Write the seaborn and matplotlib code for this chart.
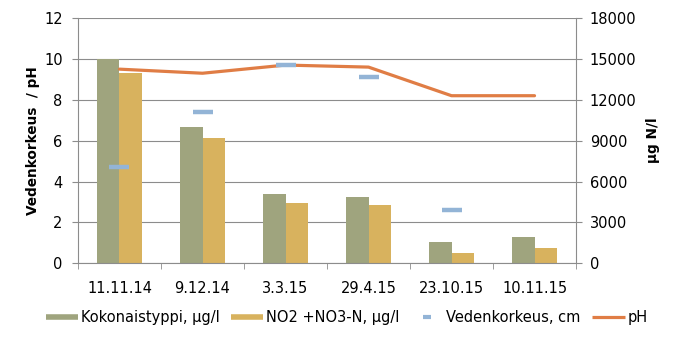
import matplotlib
matplotlib.use('Agg')
import matplotlib.pyplot as plt
import seaborn as sns
import pandas as pd
import numpy as np
from matplotlib.lines import Line2D

dates = ['11.11.14', '9.12.14', '3.3.15', '29.4.15', '23.10.15', '10.11.15']
kokonaistyppi = [15000, 10000, 5070, 4890, 1560, 1930]
no2_no3 = [14000, 9200, 4430, 4280, 780, 1145]
vedenkorkeus = [4.7, 7.4, 9.7, 9.1, 2.6, np.nan]
ph = [9.5, 9.3, 9.7, 9.6, 8.2, 8.2]

series_names = ['Kokonaistyppi, µg/l', 'NO2 +NO3-N, µg/l', 'Vedenkorkeus, cm', 'pH']
colors = ['#9FA47E', '#D8B25E', '#93B4D6', '#E07D45']
gray = '#8C8C8C'

sns.set_style('white')
plt.rcParams['font.family'] = ['DejaVu Sans']
plt.rcParams['text.color'] = 'black'
plt.rcParams['axes.labelcolor'] = 'black'
FS = 10.5

fig = plt.figure(figsize=(6.8, 3.41), dpi=100)
ax = fig.add_axes([0.1147, 0.228, 0.7324, 0.719])
ax2 = ax.twinx()

bars = pd.DataFrame({
    'date': dates * 2,
    'value': kokonaistyppi + no2_no3,
    'series': [series_names[0]] * len(dates) + [series_names[1]] * len(dates),
})
sns.barplot(data=bars, x='date', y='value', hue='series', order=dates,
            hue_order=series_names[:2], palette=colors[:2], width=0.55,
            saturation=1, errorbar=None, legend=False, linewidth=0,
            edgecolor='none', ax=ax2)

sns.pointplot(x=dates, y=ph, order=dates, color=colors[3], errorbar=None,
              marker='', linewidth=2.3, ax=ax)
sns.pointplot(x=dates, y=vedenkorkeus, order=dates, color=colors[2], errorbar=None,
              marker='_', linestyle='none', markersize=14, markeredgewidth=3.2, ax=ax)

ax.set_zorder(ax2.get_zorder() + 1)
ax.patch.set_visible(False)

ax.set_xlim(-0.5, len(dates) - 0.5)
ax.set_ylim(0, 12)
ax.set_yticks(np.arange(0, 13, 2))
ax2.set_ylim(0, 18000)
ax2.set_yticks(np.arange(0, 18001, 3000))

ax2.yaxis.grid(True, color=gray, linewidth=0.8)
ax2.set_axisbelow(True)
ax.grid(False)
ax2.xaxis.grid(False)

for s in ['top', 'right']:
    ax.spines[s].set_visible(False)
for s in ['left', 'bottom']:
    ax.spines[s].set_color(gray)
for s in ['top', 'left', 'bottom']:
    ax2.spines[s].set_visible(False)
ax2.spines['right'].set_color(gray)

ax.set_xticks(range(len(dates)))
ax.set_xticklabels(dates)
ax.set_xticks(np.arange(-0.5, len(dates), 1), minor=True)
ax.tick_params(axis='x', which='major', bottom=False, pad=9, labelsize=FS, labelcolor='black')
ax.tick_params(axis='x', which='minor', bottom=True, length=4, color=gray)
ax.tick_params(axis='y', left=True, length=4, color=gray, pad=7, labelsize=FS, labelcolor='black')
ax2.tick_params(axis='y', right=True, length=4, color=gray, pad=6, labelsize=FS, labelcolor='black')

ax.set_xlabel('')
ax.set_ylabel('Vedenkorkeus  / pH', fontweight='bold', fontsize=9.8, labelpad=3, color='black')
ax2.set_ylabel('µg N/l', fontweight='bold', fontsize=9.8, labelpad=7, color='black')

handles = [
    Line2D([0], [0], color=colors[0], lw=4, solid_capstyle='butt'),
    Line2D([0], [0], color=colors[1], lw=4, solid_capstyle='butt'),
    Line2D([0], [0], color=colors[2], lw=0, marker='_', markersize=6, markeredgewidth=3),
    Line2D([0], [0], color=colors[3], lw=2.3, solid_capstyle='butt'),
]
leg = fig.legend(handles, series_names, loc='center', bbox_to_anchor=(0.51, 0.07), ncol=4,
                 frameon=False, fontsize=FS, handlelength=2.2, handletextpad=0.2,
                 columnspacing=0.8)
for t in leg.get_texts():
    t.set_color('black')

fig.savefig('out.png', dpi=100)
